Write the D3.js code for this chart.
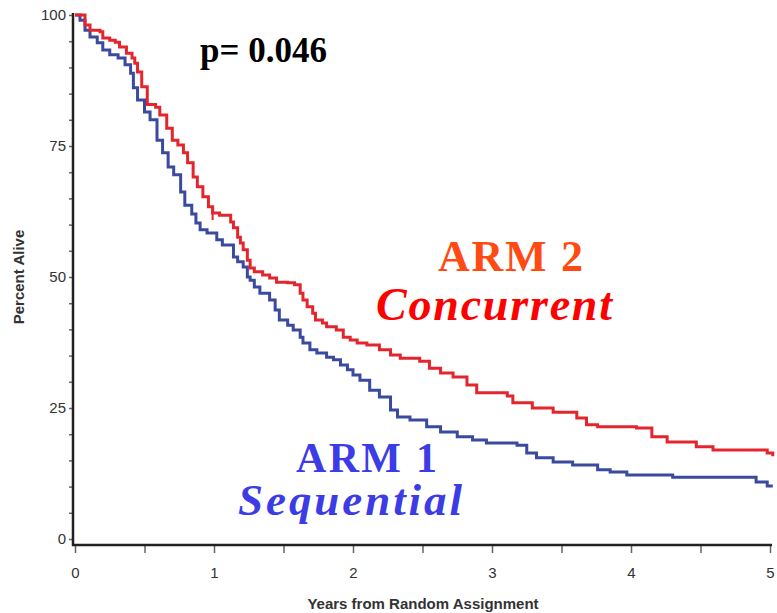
<!DOCTYPE html>
<html lang="en">
<head>
<meta charset="utf-8">
<title>Percent Alive by Arm</title>
<script src="https://cdn.jsdelivr.net/npm/d3@7/dist/d3.min.js"></script>
<style>
  body { margin: 0; background: #fff; }
  svg { display: block; }
</style>
</head>
<body>
<script>
// Arm 2 (Concurrent): years from random assignment, percent alive
var arm2Years = [0, 0.036, 0.072, 0.108, 0.18, 0.20, 0.25, 0.29, 0.32, 0.37, 0.41, 0.43, 0.45, 0.48, 0.52,
  0.58, 0.61, 0.66, 0.70, 0.74, 0.78, 0.81, 0.85, 0.88, 0.92, 0.96, 0.99, 1.04, 1.12, 1.14, 1.17, 1.19,
  1.21, 1.24, 1.26, 1.29, 1.35, 1.40, 1.45, 1.53, 1.58, 1.62, 1.64, 1.67, 1.71, 1.73, 1.78, 1.81, 1.88,
  1.93, 1.98, 2.03, 2.10, 2.19, 2.27, 2.34, 2.48, 2.55, 2.63, 2.72, 2.82, 2.89, 3.11, 3.15, 3.29, 3.44,
  3.61, 3.68, 3.76, 4.04, 4.15, 4.26, 4.47, 4.59, 4.98, 5.02];
var arm2Alive = [100, 100, 98.1, 97.1, 96.8, 95.6, 95.2, 94.8, 93.9, 92.7, 91.8, 90.8, 89.1, 86.3, 82.9,
  82.4, 80.9, 78.4, 76.1, 75.2, 73.7, 71.8, 69.1, 67.2, 65.3, 63.4, 62.2, 61.8, 60.5, 59.4, 57.6, 56.5,
  55.2, 53.2, 51.7, 51.0, 50.4, 49.8, 49.0, 48.9, 48.5, 46.9, 45.6, 44.3, 43.1, 41.8, 41.2, 40.5, 39.9,
  38.5, 38.0, 37.4, 37.0, 36.1, 35.1, 34.5, 33.9, 32.6, 31.7, 30.9, 29.4, 27.9, 27.3, 26.0, 25.0, 24.2,
  23.1, 21.8, 21.4, 21.2, 19.5, 18.5, 17.6, 17.0, 16.4, 15.8];

// Arm 1 (Sequential)
var arm1Years = [0, 0.036, 0.072, 0.108, 0.16, 0.20, 0.25, 0.31, 0.36, 0.40, 0.42, 0.45, 0.50, 0.54, 0.59,
  0.63, 0.67, 0.71, 0.76, 0.79, 0.84, 0.87, 0.90, 0.95, 1.02, 1.06, 1.14, 1.17, 1.21, 1.24, 1.26, 1.29,
  1.33, 1.40, 1.44, 1.47, 1.53, 1.57, 1.62, 1.64, 1.69, 1.74, 1.81, 1.86, 1.91, 1.96, 2.00, 2.05, 2.12,
  2.19, 2.27, 2.32, 2.41, 2.53, 2.63, 2.75, 2.86, 2.96, 3.18, 3.25, 3.32, 3.44, 3.58, 3.76, 3.85, 3.97,
  4.30, 4.90, 4.98, 5.02];
var arm1Alive = [100, 99.0, 97.1, 95.8, 94.7, 93.3, 92.4, 91.8, 90.5, 88.9, 86.1, 83.8, 81.5, 80.0, 76.1,
  73.7, 71.0, 69.5, 66.2, 63.7, 62.0, 60.3, 59.0, 58.4, 57.1, 56.1, 53.8, 52.9, 51.9, 50.0, 49.4, 48.1,
  46.9, 45.6, 43.7, 41.8, 40.8, 39.9, 38.5, 37.4, 36.1, 35.5, 34.7, 34.2, 33.2, 32.3, 31.3, 30.3, 28.4,
  27.1, 24.6, 23.3, 22.7, 21.4, 20.4, 19.5, 18.9, 18.3, 17.9, 16.4, 15.5, 14.7, 14.1, 13.2, 12.8, 12.2,
  11.8, 10.9, 10.1, 10.1];

// censored mark visible on arm 2
var arm2CensorYears = [0.99];
var arm2CensorAlive = [62.2];

var yTickLabels = [0, 25, 50, 75, 100];
var xTickLabels = [0, 1, 2, 3, 4, 5];

var w = 777, h = 613;

var svg = d3.select("body").append("svg")
  .attr("width", w)
  .attr("height", h);

var x = d3.scaleLinear().domain([0, 5]).range([75, 770]);
var y = d3.scaleLinear().domain([0, 100]).range([539, 15]);

// y axis: minor ticks every 5, labels on the quarters
var yAxis = d3.axisLeft(y)
  .tickValues(d3.range(0, 101, 5))
  .tickSize(4)
  .tickPadding(3)
  .tickFormat(function(d) { return yTickLabels.indexOf(d) >= 0 ? d : ""; });

var gy = svg.append("g")
  .attr("transform", "translate(73,0)")
  .call(yAxis);

var xAxis = d3.axisBottom(x)
  .tickValues(d3.range(0, 5.01, 0.5))
  .tickSize(7)
  .tickPadding(14)
  .tickFormat(function(d) { return xTickLabels.indexOf(d) >= 0 ? d : ""; });

var gx = svg.append("g")
  .attr("transform", "translate(0,546)")
  .call(xAxis);

[gx, gy].forEach(function(g) {
  g.select(".domain").remove();
  g.selectAll(".tick line").attr("stroke", "#666").attr("stroke-width", 1.5);
  g.selectAll(".tick text")
    .attr("fill", "#333")
    .style("font-family", "Liberation Sans, Arial, sans-serif")
    .style("font-size", "15px");
});

// axis lines
svg.append("line")
  .attr("x1", 73).attr("x2", 73).attr("y1", 13).attr("y2", 546)
  .attr("stroke", "#222").attr("stroke-width", 2.5);
svg.append("line")
  .attr("x1", 72).attr("x2", 772).attr("y1", 545).attr("y2", 545)
  .attr("stroke", "#222").attr("stroke-width", 2.5);

// axis titles
svg.append("text")
  .attr("x", 423).attr("y", 609)
  .attr("text-anchor", "middle")
  .style("font-family", "Liberation Sans, Arial, sans-serif")
  .style("font-size", "15px")
  .style("font-weight", "bold")
  .attr("fill", "#333")
  .text("Years from Random Assignment");

svg.append("text")
  .attr("transform", "translate(24,277) rotate(-90)")
  .attr("text-anchor", "middle")
  .style("font-family", "Liberation Sans, Arial, sans-serif")
  .style("font-size", "15px")
  .style("font-weight", "bold")
  .attr("fill", "#333")
  .text("Percent Alive");

// survival curves
var line = d3.line()
  .x(function(d) { return x(d[0]); })
  .y(function(d) { return y(d[1]); })
  .curve(d3.curveStepAfter);

var arm1 = d3.zip(arm1Years, arm1Alive);
var arm2 = d3.zip(arm2Years, arm2Alive);

svg.append("path")
  .datum(arm1)
  .attr("d", line)
  .attr("fill", "none")
  .attr("stroke", "#3a4a9e")
  .attr("stroke-width", 3);

svg.append("path")
  .datum(arm2)
  .attr("d", line)
  .attr("fill", "none")
  .attr("stroke", "#e3262e")
  .attr("stroke-width", 3);

svg.selectAll(".censor")
  .data(d3.zip(arm2CensorYears, arm2CensorAlive))
  .enter().append("line")
  .attr("class", "censor")
  .attr("x1", function(d) { return x(d[0]); })
  .attr("x2", function(d) { return x(d[0]); })
  .attr("y1", function(d) { return y(d[1]) - 7; })
  .attr("y2", function(d) { return y(d[1]) + 7; })
  .attr("stroke", "#e3262e")
  .attr("stroke-width", 2);

// annotations
var serif = "Liberation Serif, Times New Roman, serif";

svg.append("text")
  .attr("x", 200).attr("y", 62)
  .style("font-family", serif)
  .style("font-size", "35px")
  .style("font-weight", "bold")
  .attr("fill", "#000")
  .text("p= 0.046");

svg.append("text")
  .attr("x", 438).attr("y", 271)
  .style("font-family", serif)
  .style("font-size", "44px")
  .style("font-weight", "bold")
  .attr("fill", "#ff4a14")
  .attr("textLength", 145)
  .text("ARM 2");

svg.append("text")
  .attr("x", 376).attr("y", 320)
  .style("font-family", serif)
  .style("font-size", "46px")
  .style("font-weight", "bold")
  .style("font-style", "italic")
  .attr("fill", "#ff0000")
  .attr("textLength", 236)
  .text("Concurrent");

svg.append("text")
  .attr("x", 296).attr("y", 472)
  .style("font-family", serif)
  .style("font-size", "42px")
  .style("font-weight", "bold")
  .attr("fill", "#3c3ce6")
  .attr("textLength", 141)
  .text("ARM 1");

svg.append("text")
  .attr("x", 238).attr("y", 515)
  .style("font-family", serif)
  .style("font-size", "45px")
  .style("font-weight", "bold")
  .style("font-style", "italic")
  .attr("fill", "#3c3ce6")
  .attr("textLength", 224)
  .text("Sequential");
</script>
</body>
</html>
